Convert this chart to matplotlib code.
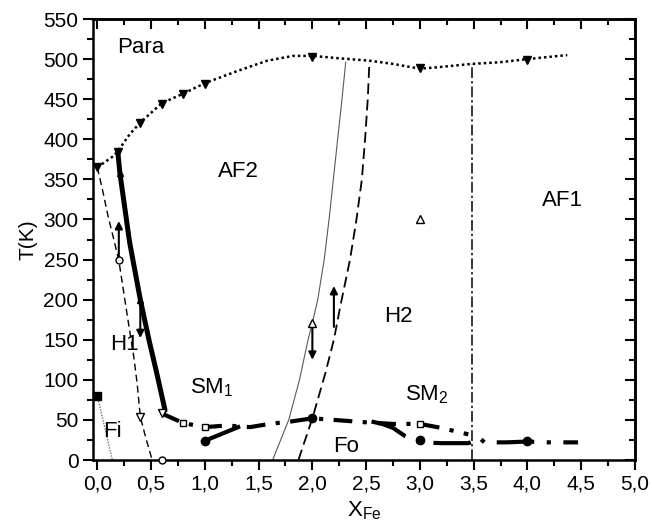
import matplotlib
matplotlib.use("Agg")
import matplotlib.pyplot as plt
from matplotlib.ticker import MultipleLocator, FuncFormatter

plt.rcParams.update({
    "font.family": ["Liberation Sans", "DejaVu Sans"],
    "mathtext.fontset": "custom",
    "mathtext.rm": "Liberation Sans",
    "mathtext.it": "Liberation Sans:italic",
    "font.size": 15,
})

# Para / AF boundary (dotted, with filled down triangles)
para_x = [0.0, 0.15, 0.19, 0.3, 0.4, 0.6, 0.8, 1.0, 1.3, 1.58, 1.82, 2.0, 2.25, 2.53, 2.75, 3.0, 3.18, 3.48, 3.74, 4.0, 4.37]
para_t = [365, 379, 385, 406, 421, 445, 457, 470, 485, 498, 504, 504, 501, 498, 494, 488, 490, 494, 496, 500, 505]
para_mx = [0.0, 0.19, 0.4, 0.6, 0.8, 1.0, 2.0, 3.0, 4.0]
para_mt = [365, 384, 420, 444, 457, 469, 502, 489, 499]

# AF2 / H1 boundary (thick solid)
thick_x = [0.19, 0.21, 0.30, 0.40, 0.48, 0.55, 0.60, 0.63]
thick_t = [385, 358, 272, 200, 150, 110, 80, 62]
thick_mx = [0.21, 0.40]
thick_mt = [358, 200]

# H1 / SM1 boundary (thin dashed)
h1_x = [0.0, 0.05, 0.10, 0.15, 0.20, 0.28, 0.34, 0.37, 0.40, 0.45, 0.51]
h1_t = [365, 336, 304, 277, 249, 179, 128, 96, 54, 28, 0]

# Fi boundary (grey dotted)
fi_x = [0.0, 0.14]
fi_t = [80, 0]

# AF2 / H2 boundary (thin solid)
thin_x = [1.63, 1.78, 1.88, 1.96, 2.0, 2.05, 2.11, 2.155, 2.195, 2.235, 2.275, 2.31]
thin_t = [0, 50, 100, 150, 171, 200, 250, 300, 350, 400, 450, 496]

# H2 left boundary (dashed)
dash_x = [1.87, 2.0, 2.12, 2.20, 2.26, 2.35, 2.41, 2.46, 2.49, 2.515, 2.53]
dash_t = [0, 52, 108, 150, 192, 250, 300, 350, 400, 450, 496]

# H2 / AF1 boundary (vertical dash-dot)
vert_x = [3.48, 3.48]
vert_t = [0, 494]

# SM / Fo boundary (thick dash-dot)
sm_x = [0.6, 0.7, 0.8, 1.0, 1.2, 1.42, 1.6, 1.8, 2.0, 2.2, 2.5, 2.75, 3.0, 3.2, 3.45]
sm_t = [58, 52, 46, 41, 43, 41, 45, 48, 52, 50, 47, 45, 45, 40, 32]

# lower Fo branches (thick dash-dot)
fo1_x = [1.0, 1.31]
fo1_t = [24, 41]
fo2_x = [2.55, 2.65, 2.75, 2.86, 3.0, 3.2, 3.45, 3.51, 3.55, 3.6, 3.8, 4.0, 4.2, 4.47]
fo2_t = [48, 45, 40, 30, 22, 21, 21, 24, 28, 22, 22, 23, 22, 22]

# markers
open_circ_x = [0.2, 0.6]
open_circ_t = [249, 0]
open_tri_dn_x = [0.4, 0.6]
open_tri_dn_t = [54, 58]
open_sq_x = [0.8, 1.0, 3.0]
open_sq_t = [46, 41, 45]
filled_circ_x = [1.0, 2.0, 3.0, 4.0]
filled_circ_t = [24, 52, 25, 24]
open_tri_up_x = [2.0, 3.0]
open_tri_up_t = [171, 300]
filled_sq_x = [0.0]
filled_sq_t = [80]

# arrows: (x, T start, T tip)
arrows = [(0.2, 249, 298), (0.4, 200, 152), (2.0, 171, 125), (2.2, 166, 217)]

# region labels: (text, x, T, ha)
labels = [
    ("Para", 0.18, 515, "left"),
    ("AF2", 1.31, 360, "center"),
    ("AF1", 4.33, 324, "center"),
    ("H2", 2.80, 179, "center"),
    ("H1", 0.12, 144, "left"),
    ("SM$_1$", 0.86, 90, "left"),
    ("SM$_2$", 2.86, 81, "left"),
    ("Fi", 0.05, 35, "left"),
    ("Fo", 2.19, 17, "left"),
]

fig = plt.figure(figsize=(6.52, 5.30), dpi=100)
ax = fig.add_axes([93 / 652, 70 / 530, 542 / 652, 441 / 530])

ax.plot(para_x, para_t, color="black", lw=1.8, linestyle=(0, (1, 1.2)))
ax.plot(para_mx, para_mt, "v", color="black", ms=6, ls="none")

ax.plot(thick_x, thick_t, color="black", lw=3.6, solid_capstyle="round")
ax.plot(thick_mx, thick_mt, "^", color="black", ms=4, ls="none")

ax.plot(h1_x, h1_t, color="black", lw=1.0, linestyle=(0, (5, 3)))
ax.plot(fi_x, fi_t, color="0.45", lw=1.0, linestyle=(0, (1, 1)))
ax.plot(thin_x, thin_t, color="0.35", lw=0.8)
ax.plot(dash_x, dash_t, color="black", lw=1.3, linestyle=(0, (6, 3)))
ax.plot(vert_x, vert_t, color="black", lw=1.1, linestyle=(0, (7, 2, 1.5, 2)))

ax.plot(sm_x, sm_t, color="black", lw=3.0, linestyle=(0, (4.5, 2.5, 1, 2.5)))
ax.plot(fo1_x, fo1_t, color="black", lw=3.0)
ax.plot(fo2_x, fo2_t, color="black", lw=3.0, linestyle=(0, (9, 3, 1, 3)))

ax.plot(open_circ_x, open_circ_t, "o", ms=5, mfc="white", mec="black", mew=1.0, ls="none", clip_on=False, zorder=5)
ax.plot(open_tri_dn_x, open_tri_dn_t, "v", ms=6, mfc="white", mec="black", mew=1.0, ls="none", zorder=5)
ax.plot(open_sq_x, open_sq_t, "s", ms=5, mfc="white", mec="black", mew=1.0, ls="none", zorder=5)
ax.plot(filled_circ_x, filled_circ_t, "o", ms=6, color="black", ls="none", zorder=5)
ax.plot(open_tri_up_x, open_tri_up_t, "^", ms=6, mfc="white", mec="black", mew=1.0, ls="none", zorder=5)
ax.plot(filled_sq_x, filled_sq_t, "s", ms=6, color="black", ls="none", clip_on=False, zorder=5)

for x, t0, t1 in arrows:
    ax.annotate("", xy=(x, t1), xytext=(x, t0),
                arrowprops=dict(arrowstyle="-|>", color="black", lw=1.5,
                                mutation_scale=11, shrinkA=0, shrinkB=0))

for text, x, t, ha in labels:
    ax.text(x, t, text, ha=ha, va="center", fontsize=16)

ax.set_xlim(-0.04, 5.0)
ax.set_ylim(0, 550)
ax.xaxis.set_major_locator(MultipleLocator(0.5))
ax.xaxis.set_minor_locator(MultipleLocator(0.25))
ax.yaxis.set_major_locator(MultipleLocator(50))
ax.yaxis.set_minor_locator(MultipleLocator(25))
ax.xaxis.set_major_formatter(FuncFormatter(lambda v, p: f"{v:.1f}".replace(".", ",")))
ax.tick_params(which="major", direction="out", length=7, width=1.5, labelsize=15)
ax.tick_params(which="minor", direction="out", length=4, width=1.5)
for s in ax.spines.values():
    s.set_linewidth(1.8)

top = ax.secondary_xaxis("top")
top.xaxis.set_major_locator(MultipleLocator(0.5))
top.xaxis.set_minor_locator(MultipleLocator(0.25))
top.tick_params(which="major", direction="in", length=7, width=1.5, labeltop=False)
top.tick_params(which="minor", direction="in", length=4, width=1.5)
top.spines["top"].set_linewidth(1.8)

right = ax.secondary_yaxis("right")
right.yaxis.set_major_locator(MultipleLocator(50))
right.yaxis.set_minor_locator(MultipleLocator(25))
right.tick_params(which="major", direction="in", length=7, width=1.5, labelright=False)
right.tick_params(which="minor", direction="in", length=4, width=1.5)
right.spines["right"].set_linewidth(1.8)

ax.set_xlabel("X$_{\\mathregular{Fe}}$", fontsize=16, labelpad=4)
ax.set_ylabel("T(K)", fontsize=15, labelpad=4)

fig.savefig("out.png", dpi=100)
